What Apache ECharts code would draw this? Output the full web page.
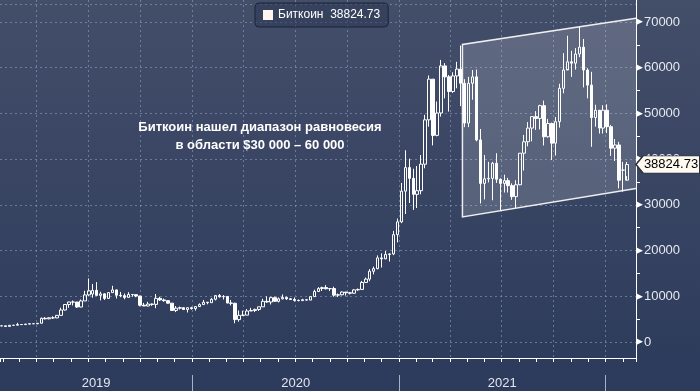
<!DOCTYPE html>
<html>
<head>
<meta charset="utf-8">
<script src="https://cdn.jsdelivr.net/npm/echarts@6/dist/echarts.min.js"></script>
<style>
html,body{margin:0;padding:0;width:700px;height:391px;overflow:hidden;background:#34405e;}
#chart{width:700px;height:391px;}
</style>
</head>
<body>
<div id="chart"></div>
<script>
// ---------- DATA ----------
const seriesName = 'Биткоин';
const lastPrice = 38824.73;
// Weekly bars (week start Monday)
const dates = [
'2019-01-21','2019-01-28','2019-02-04','2019-02-11','2019-02-18','2019-02-25','2019-03-04','2019-03-11','2019-03-18','2019-03-25',
'2019-04-01','2019-04-08','2019-04-15','2019-04-22','2019-04-29','2019-05-06','2019-05-13','2019-05-20','2019-05-27','2019-06-03',
'2019-06-10','2019-06-17','2019-06-24','2019-07-01','2019-07-08','2019-07-15','2019-07-22','2019-07-29','2019-08-05','2019-08-12',
'2019-08-19','2019-08-26','2019-09-02','2019-09-09','2019-09-16','2019-09-23','2019-09-30','2019-10-07','2019-10-14','2019-10-21',
'2019-10-28','2019-11-04','2019-11-11','2019-11-18','2019-11-25','2019-12-02','2019-12-09','2019-12-16','2019-12-23','2019-12-30',
'2020-01-06','2020-01-13','2020-01-20','2020-01-27','2020-02-03','2020-02-10','2020-02-17','2020-02-24','2020-03-02','2020-03-09',
'2020-03-16','2020-03-23','2020-03-30','2020-04-06','2020-04-13','2020-04-20','2020-04-27','2020-05-04','2020-05-11','2020-05-18',
'2020-05-25','2020-06-01','2020-06-08','2020-06-15','2020-06-22','2020-06-29','2020-07-06','2020-07-13','2020-07-20','2020-07-27',
'2020-08-03','2020-08-10','2020-08-17','2020-08-24','2020-08-31','2020-09-07','2020-09-14','2020-09-21','2020-09-28','2020-10-05',
'2020-10-12','2020-10-19','2020-10-26','2020-11-02','2020-11-09','2020-11-16','2020-11-23','2020-11-30','2020-12-07','2020-12-14',
'2020-12-21','2020-12-28','2021-01-04','2021-01-11','2021-01-18','2021-01-25','2021-02-01','2021-02-08','2021-02-15','2021-02-22',
'2021-03-01','2021-03-08','2021-03-15','2021-03-22','2021-03-29','2021-04-05','2021-04-12','2021-04-19','2021-04-26','2021-05-03',
'2021-05-10','2021-05-17','2021-05-24','2021-05-31','2021-06-07','2021-06-14','2021-06-21','2021-06-28','2021-07-05','2021-07-12',
'2021-07-19','2021-07-26','2021-08-02','2021-08-09','2021-08-16','2021-08-23','2021-08-30','2021-09-06','2021-09-13','2021-09-20',
'2021-09-27','2021-10-04','2021-10-11','2021-10-18','2021-10-25','2021-11-01','2021-11-08','2021-11-15','2021-11-22','2021-11-29',
'2021-12-06','2021-12-13','2021-12-20','2021-12-27','2022-01-03','2022-01-10','2022-01-17','2022-01-24','2022-01-31'
];
const openP = [
3540,3530,3410,3660,3670,3830,3820,3920,4000,3990,
4100,5190,5070,5300,5280,5830,7000,8200,8750,8740,
7650,8980,10300,10500,11300,10200,10530,9530,10810,11390,
10230,10140,9760,10400,10360,10050,8050,7880,8300,8230,
9550,9200,9050,8500,6900,7400,7500,7100,7500,7300,
7750,8180,8700,8600,9350,10150,9900,9970,8520,8470,
4900,5830,5880,6780,6900,7120,7700,8900,8750,9700,
8900,9450,9750,9450,9300,9100,9050,9250,9170,9930,
11050,11700,11900,11650,11700,10250,10330,10930,10770,10670,
11400,11500,13030,13760,15480,16050,18400,18200,19150,19270,
23480,26280,33000,38150,35800,32300,33100,38900,48600,57500,
45200,50100,60400,58000,54800,58200,59700,56600,47900,56600,
58000,44200,34700,35700,35800,39100,35600,34700,35300,34200,
31800,34400,41300,43800,46800,49300,48900,51700,44900,47800,
43500,48200,55500,59500,61300,61000,63000,64500,59500,56200,
49100,50700,46800,50700,47100,42400,43100,37600,35400
];
const highP = [
3620,3540,3700,3700,4200,3900,3950,4000,4060,4130,
5350,5450,5350,5630,5900,7500,8300,8800,9080,8770,
9300,11200,13900,12700,13100,11000,10650,10900,12300,11450,
10950,10600,10900,10450,10400,10100,8550,8800,8400,10500,
9900,9500,9100,8530,7850,7750,7600,7500,7700,7800,
8450,9200,8750,9600,10150,10500,10250,10000,9200,8600,
6900,6850,7200,7460,7300,7700,9450,10000,9900,9950,
9750,10400,9950,9600,9750,9300,9450,9350,9950,11450,
12000,12100,12450,11750,12100,10600,11100,10950,10950,11550,
11700,13350,14100,15950,16500,18950,19400,19900,19400,24300,
27000,34800,41950,40100,37900,38500,40900,49700,58300,57500,
52600,61700,61000,58400,59000,61300,64850,57500,58000,59500,
59600,46600,40900,39400,39400,41300,35800,36600,35900,34700,
35400,41300,45300,48100,49300,50500,51900,52800,48800,48000,
49200,56500,63200,67000,63700,64300,69000,66300,59900,59100,
51900,50500,51800,52000,47500,44400,43800,39400,39400
];
const lowP = [
3490,3400,3390,3580,3670,3690,3700,3850,3950,3900,
4100,4950,4980,5050,5220,5700,6900,7500,8000,7450,
7600,8980,10100,9700,10100,9100,9200,9400,10800,9500,
9800,9350,9750,9900,9800,7800,7850,7800,7900,7400,
8970,8800,8400,6800,6540,7100,7050,6450,7100,6870,
7700,8150,8250,8550,9100,9700,9300,8500,8000,4100,
4450,5700,5860,6780,6550,6800,7700,8600,8200,8800,
8650,9300,9200,9200,8850,8900,9050,9050,9150,9900,
11000,11150,11500,11150,9900,9850,10200,10150,10400,10550,
11200,11400,12900,13300,14800,15900,16300,18100,17600,19000,
21800,26000,28000,30400,28900,29300,32300,38000,47100,43000,
45000,49300,53300,50400,54500,55500,51600,47000,47000,53000,
43900,30300,31200,34900,31000,34800,28800,32700,32700,31100,
29300,34300,37500,42800,43900,46400,46500,43000,44700,39800,
40800,46900,54400,59700,58000,59600,62300,55700,53300,42700,
47100,45600,45600,45700,40700,39600,33600,32900,36300
];
const closeP = [
3530,3410,3660,3670,3830,3820,3920,4000,3990,4100,
5190,5070,5300,5280,5830,7000,8200,8750,8740,7650,
8980,10300,11200,11300,10200,10530,9530,10810,11390,10230,
10140,9760,10400,10360,10050,8050,7880,8300,8230,9550,
9200,9050,8500,6900,7400,7500,7100,7500,7300,7750,
8180,8700,8600,9350,10150,9900,9970,8520,8470,4900,
5830,5880,6780,6900,7120,7700,8900,8750,9700,8900,
9450,9750,9450,9300,9100,9050,9250,9170,9930,11050,
11700,11900,11650,11700,10250,10330,10930,10770,10670,11400,
11500,13030,13760,15480,16050,18400,18200,19150,19270,23480,
26280,33000,38150,35800,32300,33100,38900,48600,57500,45200,
50100,60400,58000,54800,58200,59700,56600,47900,56600,58000,
44200,34700,35700,35800,39100,35600,34700,35300,34200,31800,
34400,41300,43800,46800,49300,48900,51700,44900,47800,43500,
48200,55500,59500,61300,61000,63000,64500,59500,56200,49100,
50700,46800,50700,47100,42400,43100,35400,37600,38824.73
];
// Channel (parallelogram) corners: dates and values
const channelDates = ['2021-04-23','2022-02-24','2022-02-24','2021-04-23'];
const channelValues = [65100, 70800, 33600, 27350];
// Year labels
const yearLabels = ['2019','2020','2021'];
const yearStarts = ['2019-01-01','2020-01-01','2021-01-01'];
const yearEnds = ['2020-01-01','2021-01-01','2022-01-01'];
const yTickValues = [0,10000,20000,30000,40000,50000,60000,70000];
const annotation = 'Биткоин нашел диапазон равновесия\nв области $30 000 – 60 000';
// Axis extents
const xMin = '2019-01-26';
const xMax = '2022-02-24';
const yMin = 0, yMax = 73940;

// ---------- BUILD ----------
const DAY = 864e5;
const BAR_OFFSET_DAYS = 8;
function ts(s){ return new Date(s + 'T00:00:00').getTime(); }
const candleData = dates.map((d,i)=>[ts(d) + BAR_OFFSET_DAYS*DAY, openP[i], closeP[i], lowP[i], highP[i]]);
const channelData = channelDates.map((d,i)=>[ts(d), channelValues[i]]);
const yearData = yearLabels.map((l,i)=>[ts(yearStarts[i]), ts(yearEnds[i]), 0]);

const chart = echarts.init(document.getElementById('chart'), null, {renderer:'canvas'});
const FONT = 'Liberation Sans, Arial, sans-serif';
const gridLine = 'rgba(140,158,192,0.6)';

const option = {
  animation: false,
  backgroundColor: new echarts.graphic.LinearGradient(0,0,0,1,[
    {offset:0, color:'#434e69'},{offset:1, color:'#2c3a5b'}
  ]),
  textStyle: {fontFamily: FONT},
  legend: {
    show: true,
    left: 255, top: 3,
    padding: [6,8,6,8],
    itemWidth: 10, itemHeight: 10, itemGap: 5,
    selectedMode: false,
    backgroundColor: 'rgba(44,56,84,0.55)',
    borderColor: '#1b2436', borderWidth: 1, borderRadius: 4,
    textStyle: {color:'#ffffff', fontSize: 12, fontFamily: FONT},
    formatter: function(n){ return n + '  ' + lastPrice.toFixed(2); },
    data: [{name: seriesName, icon: 'rect', itemStyle: {color:'#fff6ef', borderWidth:0}}]
  },
  grid: [
    {left:0, right:64, top:4, bottom:49, outerBoundsMode:'none', containLabel:false},
    {left:0, right:64, top:0, bottom:33, outerBoundsMode:'none', containLabel:false}
  ],
  xAxis: [
    {gridIndex:0, type:'time', min:xMin, max:xMax, show:false},
    {gridIndex:1, type:'time', min:xMin, max:xMax,
      minInterval: 31*DAY, maxInterval: 31*DAY, splitNumber: 40,
      axisLine:{show:true, lineStyle:{color:'#ffffff', width:1}},
      axisTick:{show:true, length:4, lineStyle:{color:'#ffffff'}},
      axisLabel:{show:false}, splitLine:{show:false}},
    {gridIndex:1, type:'time', min:xMin, max:xMax,
      minInterval: 93*DAY, maxInterval: 93*DAY,
      axisLine:{show:false}, axisTick:{show:false}, axisLabel:{show:false},
      splitLine:{show:true, showMinLine:false, showMaxLine:false, lineStyle:{type:[2,3], color:gridLine, width:1}}}
  ],
  yAxis: [
    {gridIndex:0, type:'value', position:'right', min:yMin, max:yMax, interval:10000,
      axisLine:{show:false}, axisTick:{show:false},
      minorTick:{show:true, splitNumber:2, length:4, lineStyle:{color:'#ffffff'}},
      splitLine:{show:true, lineStyle:{type:[2,3], color:gridLine, width:1}},
      axisLabel:{show:true, margin:0, color:'#e6e9ef', fontSize:13, fontFamily:FONT,
        formatter: function(v){ return yTickValues.indexOf(v) >= 0 ? '{t|▶}{v|' + v + '}' : ''; },
        rich:{ t:{fontSize:9, color:'#ffffff', fontFamily:'DejaVu Sans', padding:[0,1,0,0]},
               v:{fontSize:13, color:'#e6e9ef', fontFamily:FONT} } }
    },
    {gridIndex:1, type:'value', position:'right', min:0, max:1,
      axisLine:{show:true, lineStyle:{color:'#ffffff', width:1}},
      axisTick:{show:false}, axisLabel:{show:false}, splitLine:{show:false}}
  ],
  graphic: [{
    type:'text', x:260, y:136, z:100,
    style:{text: annotation, align:'center', verticalAlign:'middle', lineHeight:18,
      fill:'#ffffff', font:'bold 13px Liberation Sans, Arial, sans-serif'}
  }],
  series: [
    {
      name:'channel', type:'custom', xAxisIndex:0, yAxisIndex:0, z:1, silent:true, clip:false,
      data:[0],
      renderItem: function(params, api){
        const pts = channelData.map(p => api.coord(p));
        return {type:'group', children:[
          {type:'polygon', shape:{points:pts}, style:{fill:'rgba(255,255,255,0.16)', stroke:null}},
          {type:'polyline', shape:{points:[pts[1], pts[0], pts[3], pts[2]]},
            style:{fill:null, stroke:'rgba(255,255,255,0.9)', lineWidth:1.5}}
        ]};
      }
    },
    {
      name: seriesName, type:'candlestick', xAxisIndex:0, yAxisIndex:0, z:3,
      barWidth: 3,
      encode:{x:0, y:[1,2,3,4]},
      data: candleData,
      itemStyle:{color:'rgba(0,0,0,0)', color0:'#ffffff', borderColor:'#ffffff', borderColor0:'#ffffff', borderWidth:1},
      markPoint:{
        silent:true,
        symbol:'path://M0,8L7,0L64,0L64,16L7,16Z',
        symbolSize:[64,17], symbolKeepAspect:false, symbolOffset:[32,0],
        itemStyle:{color:'#fffaf0', borderColor:'#2a2f3a', borderWidth:1},
        label:{show:true, position:'inside', offset:[3,0], color:'#000000', fontSize:13, fontFamily:FONT,
          formatter: function(){ return lastPrice.toFixed(2); }},
        data:[{coord:[ts(xMax), lastPrice]}]
      }
    },
    {
      name:'years', type:'custom', xAxisIndex:1, yAxisIndex:1, silent:true, clip:false,
      data: yearData,
      renderItem: function(params, api){
        const cs = params.coordSys;
        const x0 = api.coord([api.value(0), 0])[0];
        const x1 = api.coord([api.value(1), 0])[0];
        const a = Math.max(x0, cs.x), b = Math.min(x1, cs.x + cs.width);
        const bottom = cs.y + cs.height;
        const children = [{type:'text', style:{text: yearLabels[params.dataIndex], x:(a+b)/2, y:bottom+25,
          align:'center', verticalAlign:'middle', fill:'#e3e6ec', font:'13px Liberation Sans, Arial, sans-serif'}}];
        if (x1 <= cs.x + cs.width) {
          children.push({type:'line', shape:{x1:Math.round(x1)+0.5, y1:bottom+17, x2:Math.round(x1)+0.5, y2:bottom+33},
            style:{stroke:'rgba(200,208,222,0.8)', lineWidth:1}});
        }
        return {type:'group', children: children};
      }
    }
  ]
};
chart.setOption(option);
</script>
</body>
</html>
